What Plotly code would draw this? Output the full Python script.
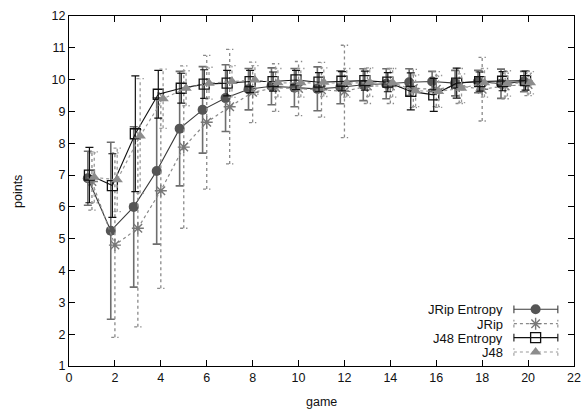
import plotly.graph_objects as go

games = list(range(1, 21))

jrip_ent = [6.90, 5.25, 6.00, 7.13, 8.46, 9.05, 9.42, 9.70, 9.79, 9.75, 9.71, 9.76, 9.84, 9.87, 9.92, 9.94, 9.89, 9.94, 9.87, 9.94]
jrip_ent_err = [0.85, 2.78, 2.52, 2.30, 1.80, 1.36, 1.05, 0.65, 0.58, 0.60, 0.69, 0.52, 0.50, 0.47, 0.42, 0.32, 0.40, 0.35, 0.46, 0.32]

jrip = [6.80, 4.80, 5.33, 6.51, 7.88, 8.66, 9.15, 9.60, 9.75, 9.72, 9.68, 9.63, 9.80, 9.80, 9.72, 9.70, 9.80, 9.70, 9.80, 9.85]
jrip_err = [0.90, 2.90, 3.10, 3.07, 2.55, 2.10, 1.80, 0.95, 0.75, 0.85, 0.86, 1.45, 0.55, 0.55, 0.60, 0.55, 0.55, 1.00, 0.40, 0.35]

j48_ent = [7.00, 6.67, 8.30, 9.54, 9.73, 9.86, 9.89, 9.94, 9.94, 9.99, 9.92, 9.95, 9.97, 9.92, 9.63, 9.52, 9.89, 9.94, 9.95, 9.97]
j48_ent_err = [0.87, 1.00, 1.82, 0.75, 0.47, 0.45, 0.40, 0.35, 0.30, 0.30, 0.30, 0.30, 0.30, 0.30, 0.58, 0.52, 0.47, 0.30, 0.30, 0.30]

j48 = [6.93, 6.85, 8.23, 9.40, 9.73, 9.89, 9.94, 9.99, 9.90, 9.90, 9.92, 9.90, 9.92, 9.90, 9.65, 9.63, 9.73, 9.90, 9.88, 9.90]
j48_err = [0.80, 1.00, 1.80, 0.93, 0.55, 0.50, 0.50, 0.45, 0.45, 0.45, 0.45, 0.45, 0.45, 0.45, 0.50, 0.50, 0.45, 0.45, 0.40, 0.35]

names = ["JRip Entropy", "JRip", "J48 Entropy", "J48"]
x_ticks = list(range(0, 23, 2))
y_ticks = list(range(1, 13))

FONT = "Liberation Sans, Arial, sans-serif"

series = [
    dict(name=names[0], y=jrip_ent, e=jrip_ent_err, off=-0.18, dotted=False,
         line="#3a3a3a", ebar="#6e6e6e", ew=1.6,
         marker=dict(symbol="circle", size=10, color="#555555", line=dict(width=0))),
    dict(name=names[1], y=jrip, e=jrip_err, off=0.0, dotted=True,
         line="#8a8a8a", ebar="#8a8a8a", ew=1.3,
         marker=dict(symbol="asterisk-open", size=10, color="#777777", line=dict(width=1.4, color="#777777"))),
    dict(name=names[2], y=j48_ent, e=j48_ent_err, off=-0.11, dotted=False,
         line="#111111", ebar="#111111", ew=1.2,
         marker=dict(symbol="square-open", size=10, color="#111111", line=dict(width=1.3, color="#111111"))),
    dict(name=names[3], y=j48, e=j48_err, off=0.10, dotted=True,
         line="#9a9a9a", ebar="#9a9a9a", ew=1.3,
         marker=dict(symbol="triangle-up", size=10, color="#8c8c8c", line=dict(width=0))),
]

fig = go.Figure()


def dotted_bars(xs, ys, es, cap):
    X, Y = [], []
    for x, y, e in zip(xs, ys, es):
        X += [x, x, None, x - cap, x + cap, None, x - cap, x + cap, None]
        Y += [y - e, y + e, None, y - e, y - e, None, y + e, y + e, None]
    return X, Y


for s in series:
    xs = [g + s["off"] for g in games]
    if s["dotted"]:
        bx, by = dotted_bars(xs, s["y"], s["e"], 0.16)
        fig.add_trace(go.Scatter(x=bx, y=by, mode="lines", showlegend=False, hoverinfo="skip",
                                 line=dict(color=s["ebar"], width=s["ew"], dash="dot")))
        fig.add_trace(go.Scatter(x=xs, y=s["y"], mode="lines+markers", showlegend=False,
                                 line=dict(color=s["line"], width=1.2, dash="dot"),
                                 marker=s["marker"]))
    else:
        fig.add_trace(go.Scatter(x=xs, y=s["y"], mode="lines+markers", showlegend=False,
                                 line=dict(color=s["line"], width=1.1),
                                 marker=s["marker"],
                                 error_y=dict(type="data", array=s["e"], visible=True,
                                              color=s["ebar"], thickness=s["ew"], width=4)))

# custom gnuplot-style key (text left of sample)
key_y = [0.162, 0.121, 0.081, 0.040]
kx0, kx1, kxm, ktext = 0.881, 0.968, 0.924, 0.862
capv = 0.011
for s, ky in zip(series, key_y):
    dash = "dot" if s["dotted"] else "solid"
    fig.add_trace(go.Scatter(
        x=[kx0, kx1, None, kx0, kx0, None, kx1, kx1],
        y=[ky, ky, None, ky - capv, ky + capv, None, ky - capv, ky + capv],
        xaxis="x2", yaxis="y2", mode="lines", showlegend=False, hoverinfo="skip",
        line=dict(color=s["ebar"] if s["dotted"] else s["line"], width=1.1, dash=dash)))
    fig.add_trace(go.Scatter(x=[kxm], y=[ky], xaxis="x2", yaxis="y2", mode="markers",
                             showlegend=False, hoverinfo="skip", marker=s["marker"]))
    fig.add_annotation(x=ktext, y=ky, xref="x2", yref="y2", text=s["name"], showarrow=False,
                       xanchor="right", yanchor="middle", height=14, borderpad=0,
                       font=dict(size=13, color="#111", family=FONT))

# axis titles
fig.add_annotation(x=0.5, y=-0.103, xref="paper", yref="paper", text="game", showarrow=False,
                   xanchor="center", yanchor="middle", font=dict(size=12.5, color="#111", family=FONT))
fig.add_annotation(x=-0.101, y=0.5, xref="paper", yref="paper", text="points", showarrow=False,
                   textangle=-90, xanchor="center", yanchor="middle",
                   font=dict(size=12.5, color="#111", family=FONT))

axis_common = dict(showline=True, linecolor="black", linewidth=1, mirror="allticks",
                   ticks="inside", ticklen=6, tickcolor="black", tickwidth=1,
                   showgrid=False, zeroline=False, automargin=False,
                   tickfont=dict(size=12.5, color="#111", family=FONT))

fig.update_layout(
    width=588, height=412,
    margin=dict(l=69, r=14, t=16, b=46),
    paper_bgcolor="white", plot_bgcolor="white",
    font=dict(family=FONT, color="#111"),
    xaxis=dict(range=[0, 22], tickvals=x_ticks, **axis_common),
    yaxis=dict(range=[1, 12], tickvals=y_ticks, **axis_common),
    xaxis2=dict(overlaying="x", range=[0, 1], visible=False),
    yaxis2=dict(overlaying="y", range=[0, 1], visible=False),
    showlegend=False,
)

fig.write_html("out.html")
